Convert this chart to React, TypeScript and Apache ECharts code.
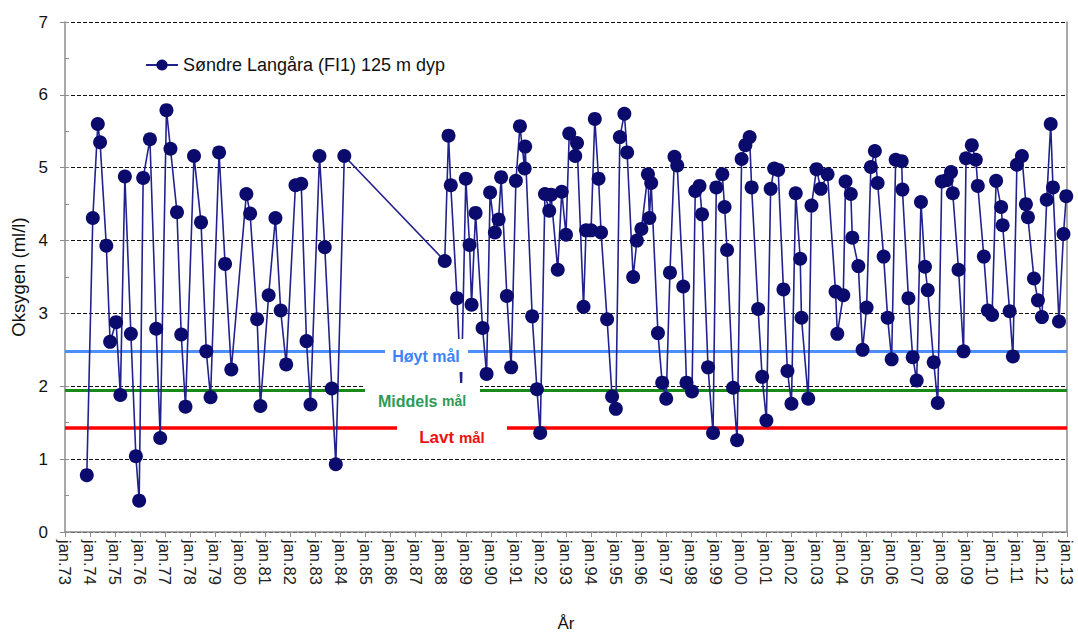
import React, { useEffect, useRef } from "react";
import * as echarts from "echarts";

// Sampling dates (decimal years) and oxygen values (ml/l)
const dates: number[] = [
  1973.87, 1974.11, 1974.31, 1974.40, 1974.65, 1974.80, 1975.04, 1975.21, 1975.39, 1975.63,
  1975.83, 1975.96, 1976.12, 1976.39, 1976.64, 1976.80, 1977.05, 1977.21, 1977.47, 1977.64,
  1977.81, 1978.15, 1978.43, 1978.64, 1978.81, 1979.15, 1979.39, 1979.64, 1980.24, 1980.39,
  1980.67, 1980.80, 1981.13, 1981.40, 1981.61, 1981.83, 1982.20, 1982.43, 1982.64, 1982.80,
  1983.16, 1983.37, 1983.65, 1983.81, 1984.15,
  1988.16, 1988.31, 1988.40, 1988.65, 1988.82, 1989.00, 1989.15, 1989.23, 1989.39, 1989.67,
  1989.83, 1989.97, 1990.16, 1990.31, 1990.41, 1990.64, 1990.81, 1991.00, 1991.16, 1991.35,
  1991.37, 1991.65, 1991.84, 1991.97, 1992.16, 1992.33, 1992.40, 1992.67, 1992.83, 1993.00,
  1993.13, 1993.37, 1993.44, 1993.70, 1993.80, 1994.00, 1994.15, 1994.30, 1994.40,
  1994.64, 1994.84, 1994.99, 1995.15, 1995.33, 1995.44, 1995.68, 1995.83, 1996.01, 1996.27,
  1996.33, 1996.40, 1996.67, 1996.84, 1997.00, 1997.15, 1997.33, 1997.44, 1997.68, 1997.81,
  1998.03, 1998.16, 1998.33, 1998.43, 1998.67, 1998.87, 1999.00, 1999.24, 1999.33, 1999.43,
  1999.67, 1999.83, 2000.01, 2000.16, 2000.33, 2000.41, 2000.67, 2000.83, 2001.00, 2001.17,
  2001.31, 2001.47, 2001.68, 2001.84, 2002.00, 2002.17, 2002.35, 2002.40, 2002.67, 2002.80,
  2003.00, 2003.17, 2003.44,
  2003.76, 2003.83, 2004.07, 2004.16, 2004.37, 2004.43, 2004.67, 2004.84, 2005.00, 2005.17,
  2005.33, 2005.44, 2005.68, 2005.84, 2006.00, 2006.16, 2006.40, 2006.43, 2006.67, 2006.84,
  2007.00, 2007.17, 2007.33, 2007.44, 2007.68, 2007.84, 2008.00, 2008.20, 2008.37, 2008.44,
  2008.67, 2008.87, 2008.97, 2009.20, 2009.36, 2009.44, 2009.68, 2009.84, 2010.01, 2010.17,
  2010.37, 2010.43, 2010.71, 2010.84, 2011.00, 2011.20, 2011.36, 2011.44, 2011.68, 2011.84,
  2012.00, 2012.19, 2012.35, 2012.44, 2012.68, 2012.86, 2012.97,
];

const oxygen: number[] = [
  0.78, 4.31, 5.60, 5.35, 3.93, 2.61, 2.88, 1.88, 4.88, 2.72,
  1.04, 0.43, 4.86, 5.39, 2.79, 1.29, 5.79, 5.26, 4.39, 2.71,
  1.72, 5.16, 4.25, 2.48, 1.85, 5.21, 3.68, 2.23, 4.64, 4.37,
  2.92, 1.73, 3.25, 4.31, 3.04, 2.30, 4.76, 4.78, 2.62, 1.75,
  5.16, 3.91, 1.97, 0.93, 5.16,
  3.72, 5.44, 4.76, 3.21, 1.90, 4.85, 3.94, 3.12, 4.38, 2.80,
  2.17, 4.66, 4.11, 4.29, 4.87, 3.24, 2.26, 4.82, 5.57, 4.99,
  5.29, 2.96, 1.96, 1.36, 4.64, 4.41, 4.63, 3.60, 4.67, 4.08,
  5.47, 5.16, 5.34, 3.09, 4.14, 4.14, 5.67, 4.85, 4.11,
  2.92, 1.86, 1.69, 5.42, 5.74, 5.21, 3.50, 4.00, 4.16, 4.91,
  4.31, 4.79, 2.73, 2.05, 1.83, 3.56, 5.15, 5.03, 3.37, 2.05,
  1.93, 4.68, 4.75, 4.36, 2.26, 1.36, 4.73, 4.91, 4.46, 3.87,
  1.98, 1.26, 5.12, 5.31, 5.42, 4.73, 3.06, 2.13, 1.53, 4.71,
  4.99, 4.97, 3.33, 2.21, 1.76, 4.65, 3.75, 2.94, 1.83, 4.48,
  4.98, 4.71, 4.91,
  3.30, 2.72, 3.25, 4.81, 4.64, 4.04, 3.65, 2.50, 3.08, 5.01,
  5.23, 4.79, 3.78, 2.94, 2.37, 5.11, 5.09, 4.70, 3.21, 2.40,
  2.08, 4.53, 3.64, 3.32, 2.33, 1.77, 4.81, 4.83, 4.94, 4.65,
  3.60, 2.48, 5.13, 5.31, 5.11, 4.75, 3.78, 3.04, 2.98, 4.82,
  4.46, 4.21, 3.03, 2.41, 5.04, 5.16, 4.50, 4.32, 3.48, 3.18,
  2.95, 4.56, 5.60, 4.73, 2.89, 4.09, 4.61,
];

const seriesName = "Søndre Langåra (FI1) 125 m dyp";

// Target thresholds (ml/l)
const thresholdNames: string[] = ["Høyt mål", "Middels mål", "Lavt mål"];
const thresholdValues: number[] = [2.48, 1.94, 1.43];
const thresholdColors: string[] = ["#4a8ffc", "#178a17", "#ff0000"];
const thresholdWidths: number[] = [3, 3, 3.5];

const yearMin = 1973;
const yearMax = 2013;

const FONT = "'Liberation Sans', Arial, sans-serif";

export default function App() {
  const ref = useRef<HTMLDivElement>(null);

  useEffect(() => {
    if (!ref.current) return;
    const chart = echarts.init(ref.current, undefined, { renderer: "svg" });

    const data = dates.map((d, i) => [d, oxygen[i]]);

    const thresholdSeries = thresholdValues.map((v, i) => ({
      name: thresholdNames[i],
      type: "line",
      data: [],
      z: 1,
      silent: true,
      markLine: {
        silent: true,
        symbol: "none",
        label: { show: false },
        lineStyle: { color: thresholdColors[i], width: thresholdWidths[i], type: "solid" },
        data: [{ yAxis: v }],
      },
    }));

    const labelBox = (
      x: number,
      y: number,
      w: number,
      h: number,
      textX: number,
      textY: number,
      rich: string,
      styles: any
    ) => ({
      type: "group",
      z: 100,
      children: [
        { type: "rect", z: 100, shape: { x, y, width: w, height: h }, style: { fill: "#ffffff" } },
        {
          type: "text",
          z: 101,
          x: textX,
          y: textY,
          style: {
            text: rich,
            rich: styles,
            align: "center",
            verticalAlign: "middle",
            fontFamily: FONT,
          },
        },
      ],
    });

    chart.setOption({
      animation: false,
      backgroundColor: "#ffffff",
      textStyle: { fontFamily: FONT },
      grid: { left: 65, right: 11, top: 22, bottom: 100, containLabel: false },
      legend: {
        data: [seriesName],
        left: 140,
        top: 51,
        itemWidth: 32,
        itemHeight: 14,
        itemGap: 5,
        textStyle: { fontSize: 18, color: "#111", fontFamily: FONT },
      },
      xAxis: {
        type: "value",
        min: yearMin,
        max: yearMax,
        interval: 1,
        name: "År",
        nameLocation: "middle",
        nameGap: 83,
        nameTextStyle: { fontSize: 17, color: "#111", fontFamily: FONT },
        axisLine: { show: true, onZero: false, lineStyle: { color: "#8c8c8c", width: 1.5 } },
        axisTick: { show: true, length: 5, lineStyle: { color: "#8c8c8c" } },
        splitLine: { show: false },
        axisLabel: {
          rotate: -90,
          fontSize: 16.5,
          color: "#222",
          margin: 8,
          fontFamily: FONT,
          formatter: (v: number) => "jan." + String(Math.round(v) % 100).padStart(2, "0"),
        },
      },
      yAxis: [
        {
          type: "value",
          min: 0,
          max: 7,
          interval: 1,
          name: "Oksygen (ml/l)",
          nameLocation: "middle",
          nameGap: 36,
          nameTextStyle: { fontSize: 18.5, color: "#111", fontFamily: FONT },
          axisLine: { show: true, lineStyle: { color: "#8c8c8c", width: 1.5 } },
          axisTick: { show: true, length: 5, lineStyle: { color: "#8c8c8c" } },
          axisLabel: { fontSize: 17, color: "#111", margin: 17, fontFamily: FONT },
          splitLine: { show: true, lineStyle: { color: "#111", width: 1, type: [4, 2] } },
        },
        {
          type: "value",
          min: 0,
          max: 7,
          interval: 1,
          position: "right",
          axisLine: { show: true, lineStyle: { color: "#8c8c8c", width: 1.5 } },
          axisTick: { show: false },
          axisLabel: { show: false },
          splitLine: { show: false },
        },
        {
          type: "value",
          min: 0,
          max: 7,
          interval: 0.5,
          position: "left",
          axisLine: { show: false },
          axisTick: { show: true, inside: true, length: 4, lineStyle: { color: "#8c8c8c" } },
          axisLabel: { show: false },
          splitLine: { show: false },
        },
      ],
      series: [
        ...thresholdSeries,
        {
          name: seriesName,
          type: "line",
          data,
          z: 5,
          symbol: "circle",
          symbolSize: 14,
          showSymbol: true,
          lineStyle: { color: "#22228f", width: 1.6 },
          itemStyle: { color: "#0b0b6e" },
        },
      ],
      graphic: [
        labelBox(385, 339, 83, 33, 426, 356, "{a|Høyt mål}", {
          a: { fontSize: 16, fontWeight: "bold", fill: "#3d82f7", fontFamily: FONT },
        }),
        labelBox(365, 383, 115, 28, 422, 401, "{a|Middels }{b|mål}", {
          a: { fontSize: 16, fontWeight: "bold", fill: "#2e9a55", fontFamily: FONT },
          b: { fontSize: 14, fontWeight: "bold", fill: "#2e9a55", fontFamily: FONT },
        }),
        labelBox(397, 420, 110, 28, 452, 437, "{a|Lavt }{b|mål}", {
          a: { fontSize: 17, fontWeight: "bold", fill: "#ee1111", fontFamily: FONT },
          b: { fontSize: 15, fontWeight: "bold", fill: "#ee1111", fontFamily: FONT },
        }),
      ],
    });

    return () => chart.dispose();
  }, []);

  return (
    <div
      ref={ref}
      style={{ position: "fixed", left: 0, top: 0, width: 1078, height: 637, background: "#fff" }}
    />
  );
}
